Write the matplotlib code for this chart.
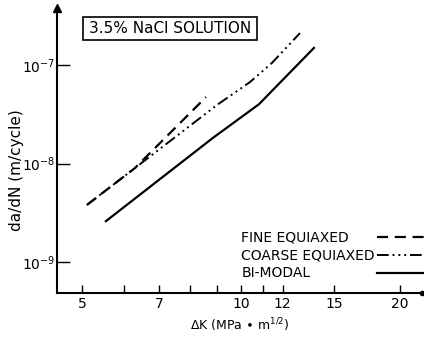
import matplotlib
matplotlib.use("Agg")
import matplotlib.pyplot as plt
from matplotlib.patches import Rectangle
from matplotlib.ticker import FixedLocator, NullFormatter

# delta K (MPa m^1/2) and da/dN (m/cycle)
fine_dk = [5.11, 6.30, 8.59]
fine_rate = [3.8e-9, 9.0e-9, 4.73e-8]

coarse_dk = [5.11, 6.30, 9.01, 10.4, 11.45, 12.94]
coarse_rate = [3.8e-9, 9.0e-9, 3.93e-8, 6.7e-8, 1.05e-7, 2.11e-7]

bimodal_dk = [5.55, 8.85, 10.82, 13.75]
bimodal_rate = [2.6e-9, 1.82e-8, 4.0e-8, 1.49e-7]

labels = ["FINE EQUIAXED", "COARSE EQUIAXED", "BI-MODAL"]
x_major = [5, 7, 10, 12, 15, 20]
x_minor = [6, 8, 9, 11]
y_major = [1e-9, 1e-8, 1e-7]
title = "3.5% NaCl SOLUTION"

styles = [
    dict(lw=1.6, dashes=(5, 3)),
    dict(lw=1.4, dashes=(6, 2, 1, 2, 1, 2, 1, 2)),
    dict(lw=1.6),
]

fig = plt.figure(figsize=(4.24, 3.38), dpi=100)
ax = fig.add_axes([0.1344, 0.1331, 0.8609, 0.8432])

series = [(fine_dk, fine_rate), (coarse_dk, coarse_rate), (bimodal_dk, bimodal_rate)]
for (dk, rate), st in zip(series, styles):
    ax.plot(dk, rate, color='black', **st)

ax.set_xscale('log')
ax.set_yscale('log')
ax.set_xlim(4.484, 22.03)
ax.set_ylim(4.85e-10, 3.79e-7)

ax.spines['top'].set_visible(False)
ax.spines['right'].set_visible(False)
ax.spines['left'].set_linewidth(1.5)
ax.spines['bottom'].set_linewidth(1.5)

# arrow on the y axis, dot at the end of the x axis
ax.plot([0], [1], marker='^', color='black', ms=6, transform=ax.transAxes, clip_on=False)
ax.plot([1], [0], marker='o', color='black', ms=3, transform=ax.transAxes, clip_on=False)

ax.xaxis.set_major_locator(FixedLocator(x_major))
ax.xaxis.set_minor_locator(FixedLocator(x_minor))
ax.set_xticklabels([str(v) for v in x_major])
ax.xaxis.set_minor_formatter(NullFormatter())
ax.yaxis.set_major_locator(FixedLocator(y_major))
ax.yaxis.set_minor_locator(FixedLocator([]))

ax.tick_params(axis='x', which='both', direction='in', length=6, width=1, labelsize=10, pad=3)
ax.tick_params(axis='y', which='both', direction='in', length=9, width=1, labelsize=10, pad=1)

ax.set_xlabel(r"$\Delta$K (MPa $\bullet$ m$^{1/2}$)", fontsize=9, labelpad=4)
ax.set_ylabel("da/dN (m/cycle)", fontsize=11)
ax.yaxis.set_label_coords(-0.09, 0.43)

# boxed title
ax.add_patch(Rectangle((0.0712, 0.888), 0.4767, 0.080, transform=ax.transAxes,
                       fill=False, ec='black', lw=1.2, clip_on=False))
ax.text(0.3096, 0.928, title, transform=ax.transAxes, fontsize=11, ha='center', va='center')

# legend: label on the left, line sample on the right
row_y = [0.196, 0.133, 0.070]
for lab, st, yy in zip(labels, styles, row_y):
    ax.text(0.505, yy, lab, transform=ax.transAxes, fontsize=10, ha='left', va='center')
    ax.plot([0.877, 1.02], [yy, yy], color='black', transform=ax.transAxes,
            clip_on=False, **st)

fig.savefig("out.png", dpi=100)
